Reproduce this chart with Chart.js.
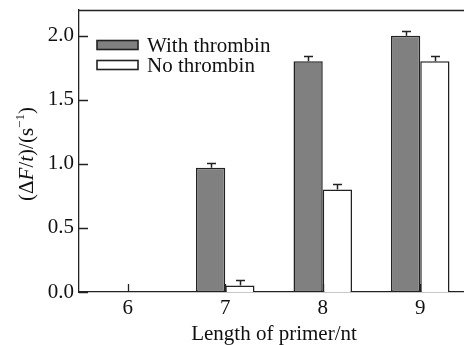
<!DOCTYPE html>
<html>
<head>
<meta charset="utf-8">
<script src="https://cdn.jsdelivr.net/npm/chart.js@4/dist/chart.umd.min.js"></script>
<style>
html,body{margin:0;padding:0;background:#fff;overflow:hidden;width:464px;height:345px;}
#wrap{position:absolute;left:0;top:0;width:480px;height:347px;}
</style>
</head>
<body>
<div id="wrap"><canvas id="c" width="480" height="347"></canvas></div>
<script>
const categories = ['6', '7', '8', '9'];
const withThrombin = [0, 0.97, 1.80, 2.00];
const withThrombinErr = [0, 0.04, 0.04, 0.035];
const noThrombin = [0, 0.05, 0.80, 1.80];
const noThrombinErr = [0, 0.045, 0.04, 0.04];
const yTickValues = [0, 0.5, 1.0, 1.5, 2.0];
const seriesNames = ['With thrombin', 'No thrombin'];
const xTitle = 'Length of primer/nt';
// y title pieces: [text, italic, superscript]
const yTitleParts = [['(Δ', false, false], ['F', true, false], ['/', false, false], ['t', true, false], [')/(s', false, false], ['−1', false, true], [')', false, false]];

const FONT = "'Liberation Serif', 'Times New Roman', serif";
const INK = '#222';

const framePlugin = {
  id: 'frame',
  afterDatasetsDraw(chart) {
    const ctx = chart.ctx, a = chart.chartArea;
    const xs = chart.scales.x, ys = chart.scales.y;
    ctx.save();
    ctx.strokeStyle = INK;
    ctx.lineWidth = 1.3;
    ctx.beginPath();
    ctx.moveTo(a.left, a.top + 0.5); ctx.lineTo(a.right, a.top + 0.5);
    ctx.stroke();
    ctx.beginPath();
    ys.ticks.forEach(t => {
      const y = Math.round(ys.getPixelForValue(t.value)) + 0.5;
      ctx.moveTo(a.left, y); ctx.lineTo(a.left + 9, y);
    });
    xs.ticks.forEach((t, i) => {
      const x = Math.round(xs.getPixelForTick(i)) + 0.5;
      ctx.moveTo(x, a.bottom); ctx.lineTo(x, a.bottom - 8);
    });
    ctx.stroke();
    const errs = [withThrombinErr, noThrombinErr];
    chart.data.datasets.forEach((ds, di) => {
      const meta = chart.getDatasetMeta(di);
      meta.data.forEach((bar, i) => {
        const e = errs[di][i];
        if (!e) return;
        const v = ds.data[i];
        const x = Math.round(bar.x) + 0.5;
        const y0 = ys.getPixelForValue(v);
        const y1 = Math.round(ys.getPixelForValue(v + e)) + 0.5;
        ctx.beginPath();
        ctx.lineWidth = 1.5;
        ctx.moveTo(x, y0); ctx.lineTo(x, y1);
        ctx.moveTo(x - 4.5, y1); ctx.lineTo(x + 4.5, y1);
        ctx.stroke();
      });
    });
    // legend
    ctx.font = '21px ' + FONT;
    ctx.textBaseline = 'middle';
    ctx.textAlign = 'left';
    chart.data.datasets.forEach((ds, di) => {
      const bx = 97, by = 40.5 + di * 20, bw = 41, bh = 9;
      ctx.fillStyle = ds.backgroundColor;
      ctx.fillRect(bx, by, bw, bh);
      ctx.lineWidth = 1.6;
      ctx.strokeStyle = INK;
      ctx.strokeRect(bx, by, bw, bh);
      ctx.fillStyle = '#111';
      ctx.fillText(ds.label, 147, by + bh / 2 + 1);
    });
    // y title with italic and superscript
    const fontFor = p => (p[1] ? 'italic ' : '') + (p[2] ? '13px ' : '21px ') + FONT;
    let total = 0;
    yTitleParts.forEach(p => { ctx.font = fontFor(p); total += ctx.measureText(p[0]).width; });
    ctx.translate(27, (a.top + a.bottom) / 2 + 3);
    ctx.rotate(-Math.PI / 2);
    ctx.textBaseline = 'middle';
    let cx = -total / 2;
    yTitleParts.forEach(p => {
      ctx.font = fontFor(p);
      ctx.fillText(p[0], cx, p[2] ? -6 : 0);
      cx += ctx.measureText(p[0]).width;
    });
    ctx.restore();
  }
};

new Chart(document.getElementById('c'), {
  type: 'bar',
  data: {
    labels: categories,
    datasets: [
      { label: seriesNames[0], data: withThrombin, backgroundColor: '#808080', borderColor: INK, borderWidth: 1.5, borderSkipped: false, minBarLength: 1 },
      { label: seriesNames[1], data: noThrombin, backgroundColor: '#ffffff', borderColor: INK, borderWidth: 1.5, borderSkipped: 'start' }
    ]
  },
  options: {
    responsive: false,
    animation: false,
    devicePixelRatio: 1,
    layout: { padding: { top: 10, right: 11, left: 0, bottom: 0 } },
    datasets: { bar: { categoryPercentage: 0.6, barPercentage: 1.0 } },
    plugins: { legend: { display: false }, tooltip: { enabled: false } },
    scales: {
      x: {
        grid: { display: false, drawTicks: false },
        border: { display: true, color: INK, width: 1.3 },
        ticks: { font: { family: FONT, size: 21 }, color: '#111', padding: 4 },
        title: { display: true, text: xTitle, font: { family: FONT, size: 21 }, color: '#111', padding: { top: 0, bottom: 0 } },
        afterFit(s) { s.height = 55; s.paddingLeft = 0; s.paddingRight = 0; }
      },
      y: {
        min: 0, max: 2.2,
        grid: { display: false, drawTicks: false },
        border: { display: true, color: INK, width: 1.3 },
        afterBuildTicks(s) { s.ticks = yTickValues.map(v => ({ value: v })); },
        ticks: { font: { family: FONT, size: 21 }, color: '#111', padding: 5, callback: v => Number(v).toFixed(1) },
        title: { display: false },
        afterFit(s) { s.width = 79; s.paddingTop = 0; s.paddingBottom = 0; }
      }
    }
  },
  plugins: [framePlugin]
});
</script>
</body>
</html>
